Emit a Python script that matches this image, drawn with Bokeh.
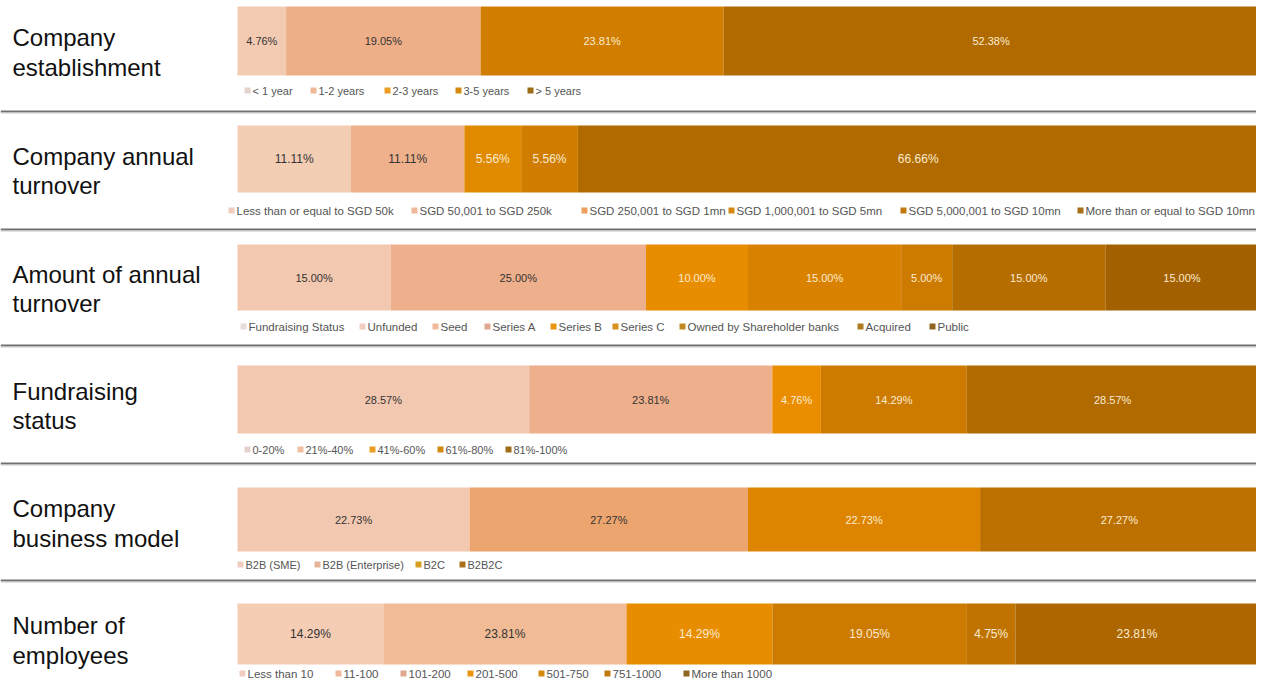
from bokeh.plotting import figure
from bokeh.models import Range1d, ColumnDataSource
from bokeh.embed import file_html
from bokeh.resources import INLINE
from bokeh.core.properties import value

# ---------------- data ----------------
titles = [
    ["Company", "establishment"],
    ["Company annual", "turnover"],
    ["Amount of annual", "turnover"],
    ["Fundraising", "status"],
    ["Company", "business model"],
    ["Number of", "employees"],
]

est_values = [4.76, 19.05, 23.81, 52.38]
est_legend = ["< 1 year", "1-2 years", "2-3 years", "3-5 years", "> 5 years"]

turnover_values = [11.11, 11.11, 5.56, 5.56, 66.66]
turnover_legend = ["Less than or equal to SGD 50k", "SGD 50,001 to SGD 250k",
                   "SGD 250,001 to SGD 1mn", "SGD 1,000,001 to SGD 5mn",
                   "SGD 5,000,001 to SGD 10mn", "More than or equal to SGD 10mn"]

amount_values = [15.00, 25.00, 10.00, 15.00, 5.00, 15.00, 15.00]
amount_legend = ["Fundraising Status", "Unfunded", "Seed", "Series A", "Series B",
                 "Series C", "Owned by Shareholder banks", "Acquired", "Public"]

fund_values = [28.57, 23.81, 4.76, 14.29, 28.57]
fund_legend = ["0-20%", "21%-40%", "41%-60%", "61%-80%", "81%-100%"]

model_values = [22.73, 27.27, 22.73, 27.27]
model_legend = ["B2B (SME)", "B2B (Enterprise)", "B2C", "B2B2C"]

emp_values = [14.29, 23.81, 14.29, 19.05, 4.75, 23.81]
emp_legend = ["Less than 10", "11-100", "101-200", "201-500", "501-750",
              "751-1000", "More than 1000"]

row_values = [est_values, turnover_values, amount_values, fund_values, model_values, emp_values]
row_legends = [est_legend, turnover_legend, amount_legend, fund_legend, model_legend, emp_legend]

# ---------------- styles / layout ----------------
seg_colors = [
    ["#f3cbb3", "#eeaf88", "#d17d00", "#b06a00"],
    ["#f4cdb5", "#efb18c", "#e08a00", "#d07c00", "#b06a00"],
    ["#f3c8b0", "#eeb08c", "#e88c00", "#d98200", "#cc7a00", "#b56d00", "#a36000"],
    ["#f3c8b0", "#eeb08c", "#ea8e00", "#cc7a00", "#b06a00"],
    ["#f3c8b0", "#eca56f", "#dd8400", "#bb7000"],
    ["#f5cdb5", "#f0bb95", "#e88c00", "#cc7a00", "#c07300", "#ad6600"],
]
leg_colors = [
    ["#e6d2cc", "#f0b99a", "#eb9e24", "#d48a10", "#9c6d14"],
    ["#f0cdbf", "#f0b99a", "#eda060", "#d48a10", "#c07a10", "#a8701a"],
    ["#e8dcd8", "#f0cdbf", "#f0b99a", "#e0a890", "#eb9410", "#d89020", "#c08a20", "#b07a20", "#8f6420"],
    ["#e6d2cc", "#f0c0a0", "#eb9e24", "#d48a10", "#9c6d14"],
    ["#f0cdbf", "#e6b49a", "#d8a020", "#a8701a"],
    ["#f0cdbf", "#f0b99a", "#e0a890", "#eb9410", "#d48a10", "#c07a10", "#8f6420"],
]
bar_top_bot = [(6, 75), (125, 192), (244, 310), (365, 433), (487, 551), (603, 664)]
title_base = [(37, 67), (156, 185), (274, 303), (391, 420), (508, 538), (625, 655)]
legend_y = [90, 210, 326, 449, 564, 673]
legend_x = [
    [247, 313, 387, 458, 530],
    [231, 414, 584, 731, 903, 1080],
    [243, 362, 435, 487, 553, 615, 682, 860, 932],
    [247, 300, 372, 440, 508],
    [240, 317, 418, 462],
    [242, 338, 403, 470, 541, 607, 686],
]
legend_font = ["11px", "11.5px", "11.5px", "11px", "11px", "11.5px"]
label_font = ["11px", "12px", "11px", "11px", "11px", "12px"]
separators = [111, 229, 345, 463, 580]

W, H = 1256, 681
x0_px, x100_px = 237, 1258
scale = (x100_px - x0_px) / 100.0

p = figure(width=W, height=H,
           x_range=Range1d(-x0_px / scale, (W - x0_px) / scale),
           y_range=Range1d(H, 0),
           output_backend="svg", toolbar_location=None, min_border=0,
           x_axis_location=None, y_axis_location=None)
p.extra_x_ranges = {"px": Range1d(0, W)}
p.grid.visible = False
p.outline_line_color = None
p.background_fill_color = "white"

FONT = value("Liberation Sans")

# separators
p.segment(x0=[0] * len(separators), x1=[W] * len(separators), y0=separators, y1=separators,
          x_range_name="px", line_color="#707070", line_width=2)
p.segment(x0=[0] * len(separators), x1=[W] * len(separators),
          y0=[s + 1.5 for s in separators], y1=[s + 1.5 for s in separators],
          x_range_name="px", line_color="#c8c8c8", line_width=1)

for i, vals in enumerate(row_values):
    lefts, rights = [], []
    acc = 0.0
    for v in vals:
        lefts.append(acc)
        acc += v
        rights.append(acc)
    top, bot = bar_top_bot[i]
    src = ColumnDataSource(dict(
        left=lefts, right=rights, top=[top] * len(vals), bottom=[bot] * len(vals),
        color=seg_colors[i],
        cx=[(l + r) / 2 for l, r in zip(lefts, rights)],
        cy=[(top + bot) / 2] * len(vals),
        lab=[f"{v:.2f}%" for v in vals],
        tcol=["#333333" if k < 2 else "#fbebcf" for k in range(len(vals))],
    ))
    p.quad(left="left", right="right", top="top", bottom="bottom", source=src,
           fill_color="color", line_color=None)
    p.text(x="cx", y="cy", text="lab", source=src, text_color="tcol",
           text_font=FONT, text_font_size=label_font[i],
           text_align="center", text_baseline="middle")

    # titles
    t1, t2 = title_base[i]
    p.text(x=[12, 12], y=[t1, t2], text=titles[i], x_range_name="px",
           text_font=FONT, text_font_size="24px", text_color="#111111",
           text_baseline="alphabetic", text_align="left")

    # legend
    ly = legend_y[i]
    lx = legend_x[i]
    p.scatter(x=lx, y=[ly] * len(lx), marker="square", size=6,
              fill_color=leg_colors[i], line_color=None, x_range_name="px")
    p.text(x=[x + 5 for x in lx], y=[ly] * len(lx), text=row_legends[i],
           x_range_name="px", text_font=FONT, text_font_size=legend_font[i],
           text_color="#555555", text_baseline="middle", text_align="left")

open("out.html", "w").write(file_html(p, INLINE))
